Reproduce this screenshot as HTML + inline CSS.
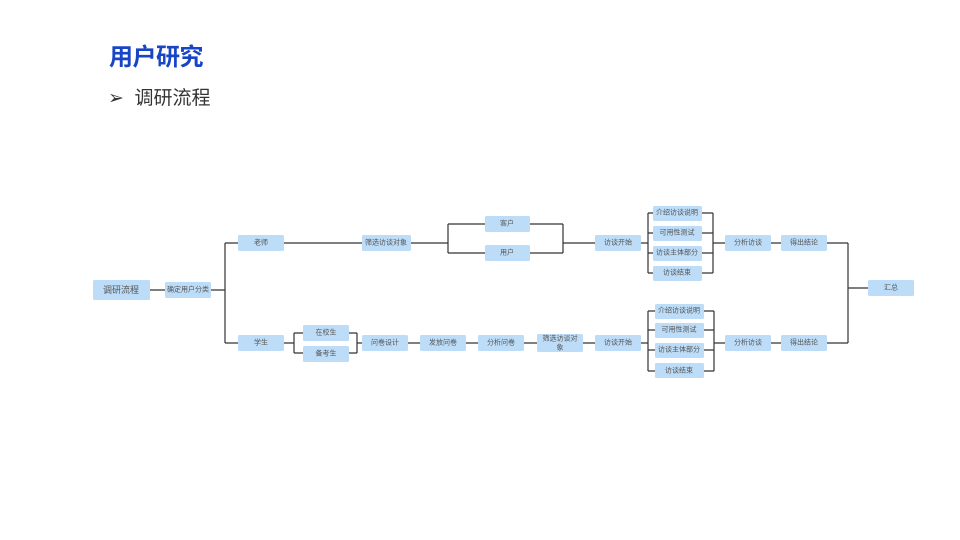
<!DOCTYPE html>
<html><head><meta charset="utf-8"><style>
body{margin:0;width:960px;height:540px;background:#fff;position:relative;overflow:hidden;font-family:"Liberation Sans","Noto Sans CJK SC",sans-serif}
.t{position:absolute;left:109px;top:37px;font-size:24px;font-weight:bold;color:#1845c6;letter-spacing:-0.5px}
.s{position:absolute;left:108px;top:83px;font-size:19px;color:#333}
svg{position:absolute;left:0;top:0}
.b{fill:#bcdcf7}
text{font-family:"Liberation Sans","Noto Sans CJK SC",sans-serif;font-size:7px;fill:#555;text-anchor:middle;dominant-baseline:central}
</style></head><body>
<div class="t">用户研究</div>
<div class="s">➢&nbsp; 调研流程</div>
<svg width="960" height="540">
<g stroke="#333" stroke-width="1.2" fill="none">
<path d="M150 290H165M211 290H225M225 243V343M225 243H238M225 343H238"/>
<path d="M284 243H362M411 243H448M448 224V253M448 224H485M448 253H485M530 224H563M530 253H563M563 224V253M563 243H595"/>
<path d="M641 243H648M648 213V273M648 213H653M648 233H653M648 253H653M648 273H653M702 213H713M702 233H713M702 253H713M702 273H713M713 213V273M713 243H725M771 243H781M827 243H848M848 243V343M827 343H848M848 288H868"/>
<path d="M284 343H294M294 333V353M294 333H303M294 353H303M349 333H357M349 353H357M357 333V353M357 343H362M408 343H420M466 343H478M524 343H537M583 343H595"/>
<path d="M641 343H648M648 311V371M648 311H655M648 330H655M648 350H655M648 371H655M704 311H714M704 330H714M704 350H714M704 371H714M714 311V371M714 343H725M771 343H781"/>
</g>
<g>
<rect class="b" x="93" y="280" width="57" height="20" rx="1.5"/><text x="121" y="290" style="font-size:9px">调研流程</text>
<rect class="b" x="165" y="282" width="46" height="16" rx="1.5"/><text x="188" y="290">确定用户分类</text>
<rect class="b" x="238" y="235" width="46" height="16" rx="1.5"/><text x="261" y="243">老师</text>
<rect class="b" x="362" y="235" width="49" height="16" rx="1.5"/><text x="386" y="243">筛选访谈对象</text>
<rect class="b" x="485" y="216" width="45" height="16" rx="1.5"/><text x="507" y="224">客户</text>
<rect class="b" x="485" y="245" width="45" height="16" rx="1.5"/><text x="507" y="253">用户</text>
<rect class="b" x="595" y="235" width="46" height="16" rx="1.5"/><text x="618" y="243">访谈开始</text>
<rect class="b" x="653" y="206" width="49" height="15" rx="1.5"/><text x="677" y="213">介绍访谈说明</text>
<rect class="b" x="653" y="226" width="49" height="15" rx="1.5"/><text x="677" y="233">可用性测试</text>
<rect class="b" x="653" y="246" width="49" height="15" rx="1.5"/><text x="677" y="253">访谈主体部分</text>
<rect class="b" x="653" y="266" width="49" height="15" rx="1.5"/><text x="677" y="273">访谈结束</text>
<rect class="b" x="725" y="235" width="46" height="16" rx="1.5"/><text x="748" y="243">分析访谈</text>
<rect class="b" x="781" y="235" width="46" height="16" rx="1.5"/><text x="804" y="243">得出结论</text>
<rect class="b" x="868" y="280" width="46" height="16" rx="1.5"/><text x="891" y="288">汇总</text>
<rect class="b" x="238" y="335" width="46" height="16" rx="1.5"/><text x="261" y="343">学生</text>
<rect class="b" x="303" y="325" width="46" height="16" rx="1.5"/><text x="326" y="333">在校生</text>
<rect class="b" x="303" y="346" width="46" height="16" rx="1.5"/><text x="326" y="354">备考生</text>
<rect class="b" x="362" y="335" width="46" height="16" rx="1.5"/><text x="385" y="343">问卷设计</text>
<rect class="b" x="420" y="335" width="46" height="16" rx="1.5"/><text x="443" y="343">发放问卷</text>
<rect class="b" x="478" y="335" width="46" height="16" rx="1.5"/><text x="501" y="343">分析问卷</text>
<rect class="b" x="537" y="334" width="46" height="18" rx="1.5"/><text x="560" y="339">筛选访谈对</text><text x="560" y="348">象</text>
<rect class="b" x="595" y="335" width="46" height="16" rx="1.5"/><text x="618" y="343">访谈开始</text>
<rect class="b" x="655" y="304" width="49" height="15" rx="1.5"/><text x="679" y="311">介绍访谈说明</text>
<rect class="b" x="655" y="323" width="49" height="15" rx="1.5"/><text x="679" y="330">可用性测试</text>
<rect class="b" x="655" y="343" width="49" height="15" rx="1.5"/><text x="679" y="350">访谈主体部分</text>
<rect class="b" x="655" y="363" width="49" height="15" rx="1.5"/><text x="679" y="371">访谈结束</text>
<rect class="b" x="725" y="335" width="46" height="16" rx="1.5"/><text x="748" y="343">分析访谈</text>
<rect class="b" x="781" y="335" width="46" height="16" rx="1.5"/><text x="804" y="343">得出结论</text>
</g>
</svg>
</body></html>
